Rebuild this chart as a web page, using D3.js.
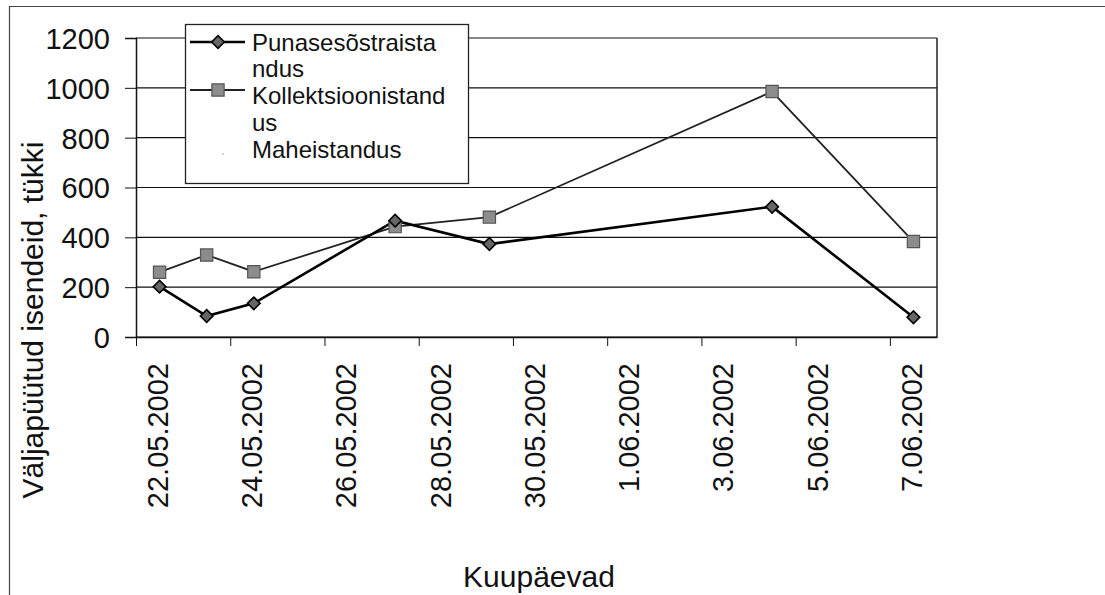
<!DOCTYPE html>
<html>
<head>
<meta charset="utf-8">
<script src="https://cdn.jsdelivr.net/npm/d3@7"></script>
<style>
  body { margin: 0; background: #fff; }
  svg { font-family: "Liberation Sans", Arial, sans-serif; }
  .tickLabel { font-size: 29px; fill: #111; }
  .axisText { font-size: 30px; fill: #111; }
  .legendText { font-size: 24px; fill: #111; }
</style>
</head>
<body>
<div id="chart"></div>
<script>
// data
var dates = ["2002-05-22", "2002-05-23", "2002-05-24", "2002-05-27", "2002-05-29", "2002-06-04", "2002-06-07"];
var punasesostar = [202, 84, 135, 467, 373, 523, 79];
var kollektsioon = [260, 329, 262, 443, 481, 985, 383];
var yTicks = [0, 200, 400, 600, 800, 1000, 1200];
var xTickDates = ["2002-05-22", "2002-05-24", "2002-05-26", "2002-05-28", "2002-05-30",
                  "2002-06-01", "2002-06-03", "2002-06-05", "2002-06-07"];
var legendNames = [["Punasesõstraista", "ndus"], ["Kollektsioonistand", "us"], ["Maheistandus"]];

var svgWidth = 1105;
var svgHeight = 595;

var margin = { top: 38, right: 168, bottom: 258, left: 136 };
var width = svgWidth - margin.left - margin.right;
var height = svgHeight - margin.top - margin.bottom;

var parse = d3.utcParse("%Y-%m-%d");
var fmt = d3.utcFormat("%-d.%m.%Y");
var DAY = 864e5;
// each day sits in the middle of its own slot, ticks on the slot edges
var noon = d => new Date(parse(d).getTime() + DAY / 2);

var svg = d3.select("#chart")
    .append("svg")
    .attr("width", svgWidth)
    .attr("height", svgHeight);

// outer frame (only top and left edges show in the scan)
svg.append("path")
    .attr("d", "M9.5,595V6.5H1105")
    .attr("fill", "none")
    .attr("stroke", "#444")
    .attr("stroke-width", 1.2);

var chart = svg.append("g")
    .attr("transform", `translate(${margin.left}, ${margin.top})`);

var xScale = d3.scaleUtc()
    .domain([parse("2002-05-22"), new Date(parse("2002-06-07").getTime() + DAY)])
    .range([0, width]);

var yScale = d3.scaleLinear()
    .domain([0, 1200])
    .range([height, 0]);

// gridlines
chart.append("g")
    .selectAll("line")
    .data(yTicks)
    .enter()
    .append("line")
    .attr("x1", 0)
    .attr("x2", width)
    .attr("y1", d => yScale(d))
    .attr("y2", d => yScale(d))
    .attr("stroke", "#111")
    .attr("stroke-width", 1.2);

// right border of plot area
chart.append("line")
    .attr("x1", width).attr("x2", width)
    .attr("y1", 0).attr("y2", height)
    .attr("stroke", "#222")
    .attr("stroke-width", 1.5);

var leftAxis = d3.axisLeft(yScale)
    .tickValues(yTicks)
    .tickFormat(d3.format("d"))
    .tickSize(11)
    .tickPadding(15);

var yAxis = chart.append("g").call(leftAxis);
yAxis.select(".domain").attr("stroke", "#111").attr("stroke-width", 1.5);
yAxis.selectAll(".tick line").attr("stroke", "#111");
yAxis.selectAll("text")
    .attr("class", "tickLabel")
    .attr("font-size", null)
    .attr("font-family", null)
    .attr("dy", "0.36em");

var bottomAxis = d3.axisBottom(xScale)
    .tickValues(xTickDates.map(parse))
    .tickSize(9)
    .tickSizeOuter(0)
    .tickFormat("");

var xAxis = chart.append("g")
    .attr("transform", `translate(0, ${height})`)
    .call(bottomAxis);
xAxis.select(".domain").attr("stroke", "#111").attr("stroke-width", 1.5);
xAxis.selectAll(".tick line").attr("stroke", "#111");

// rotated date labels, centred on the day slot
chart.append("g")
    .selectAll("text")
    .data(xTickDates)
    .enter()
    .append("text")
    .attr("class", "tickLabel")
    .attr("transform", d => `translate(${xScale(noon(d)) - 2}, ${height + 26}) rotate(-90)`)
    .attr("text-anchor", "end")
    .attr("dy", "0.36em")
    .text(d => fmt(parse(d)));

// axis titles
svg.append("text")
    .attr("class", "axisText")
    .attr("transform", "translate(43, 320) rotate(-90)")
    .attr("text-anchor", "middle")
    .text("Väljapüütud isendeid, tükki");

svg.append("text")
    .attr("class", "axisText")
    .attr("x", 539)
    .attr("y", 587)
    .attr("text-anchor", "middle")
    .text("Kuupäevad");

// series
var line = d3.line()
    .x(d => xScale(noon(d.date)))
    .y(d => yScale(d.value));

var s1 = dates.map((d, i) => ({ date: d, value: punasesostar[i] }));
var s2 = dates.map((d, i) => ({ date: d, value: kollektsioon[i] }));

chart.append("path")
    .datum(s2)
    .attr("d", line)
    .attr("fill", "none")
    .attr("stroke", "#222")
    .attr("stroke-width", 1.8);

chart.append("path")
    .datum(s1)
    .attr("d", line)
    .attr("fill", "none")
    .attr("stroke", "#000")
    .attr("stroke-width", 2.6);

var square = d3.symbol().type(d3.symbolSquare).size(150);
// diamond = square turned 45 degrees
var diamond = d3.symbol().type(d3.symbolSquare).size(80);

chart.append("g")
    .selectAll("path")
    .data(s2)
    .enter()
    .append("path")
    .attr("d", square)
    .attr("transform", d => `translate(${xScale(noon(d.date))}, ${yScale(d.value)})`)
    .attr("fill", "#8c8c8c")
    .attr("stroke", "#555")
    .attr("stroke-width", 1.2);

chart.append("g")
    .selectAll("path")
    .data(s1)
    .enter()
    .append("path")
    .attr("d", diamond)
    .attr("transform", d => `translate(${xScale(noon(d.date))}, ${yScale(d.value)}) rotate(45)`)
    .attr("fill", "#666")
    .attr("stroke", "#000")
    .attr("stroke-width", 1.6);

// legend
var legend = svg.append("g");
legend.append("rect")
    .attr("x", 185.5).attr("y", 24.5)
    .attr("width", 283).attr("height", 159)
    .attr("fill", "#fff")
    .attr("stroke", "#222")
    .attr("stroke-width", 1.3);

// symbol row y, text baselines per entry
var legendSymY = [42, 90, 152];
var legendBase = [[51, 77], [104, 131], [158]];

legend.append("line")
    .attr("x1", 190).attr("x2", 245).attr("y1", legendSymY[0]).attr("y2", legendSymY[0])
    .attr("stroke", "#000").attr("stroke-width", 2.6);
legend.append("path")
    .attr("d", diamond)
    .attr("transform", `translate(218, ${legendSymY[0]}) rotate(45)`)
    .attr("fill", "#666").attr("stroke", "#000").attr("stroke-width", 1.6);

legend.append("line")
    .attr("x1", 190).attr("x2", 245).attr("y1", legendSymY[1]).attr("y2", legendSymY[1])
    .attr("stroke", "#222").attr("stroke-width", 1.8);
legend.append("path")
    .attr("d", square)
    .attr("transform", `translate(218, ${legendSymY[1]})`)
    .attr("fill", "#8c8c8c").attr("stroke", "#555").attr("stroke-width", 1.2);

// third series is drawn in white, only a speck shows
legend.append("circle")
    .attr("cx", 223).attr("cy", 154).attr("r", 0.8)
    .attr("fill", "#999");

legendNames.forEach(function (lines, i) {
    lines.forEach(function (t, j) {
        legend.append("text")
            .attr("class", "legendText")
            .attr("x", 252)
            .attr("y", legendBase[i][j])
            .text(t);
    });
});
</script>
</body>
</html>
